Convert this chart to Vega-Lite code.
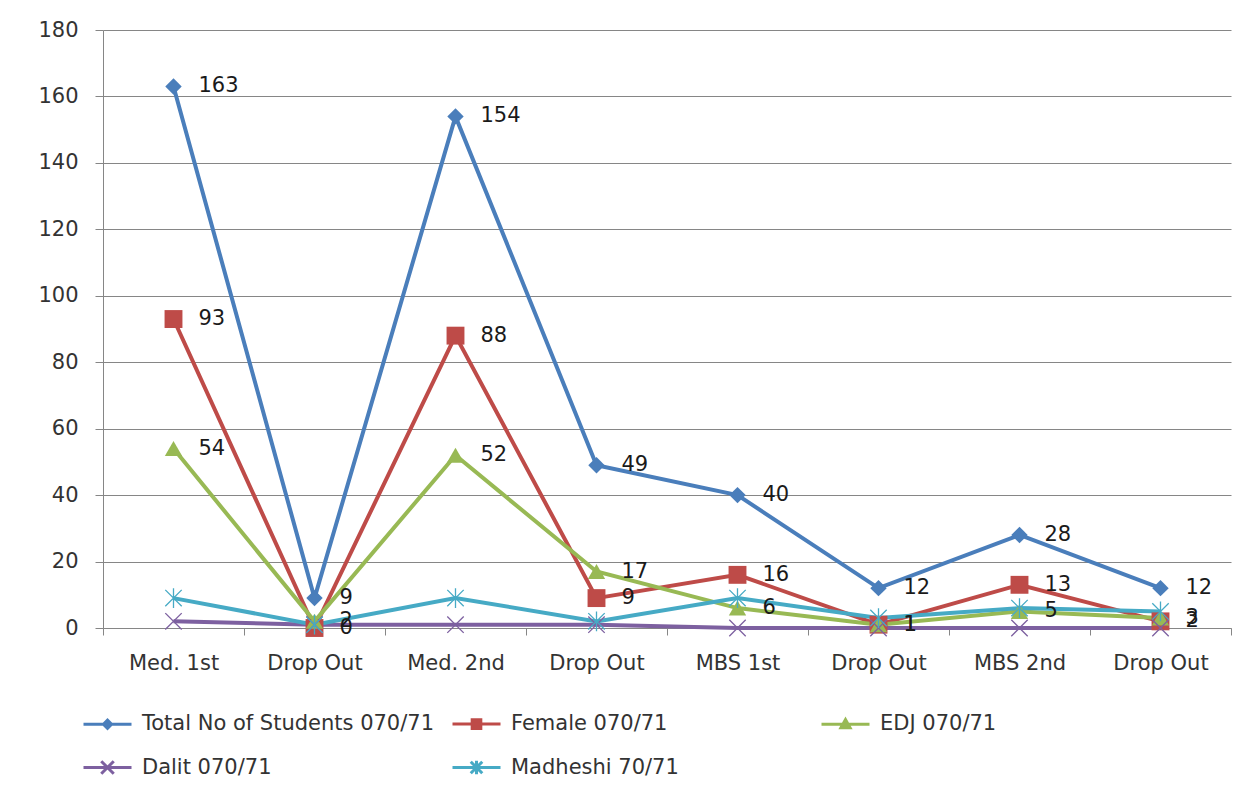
{
  "$schema": "https://vega.github.io/schema/vega-lite/v6.json",
  "width": 1128,
  "height": 598,
  "autosize": {"type": "none"},
  "padding": {"left": 103, "top": 30, "right": 26, "bottom": 165},
  "background": "white",
  "config": {
    "view": {"stroke": null},
    "font": "DejaVu Sans",
    "axis": {"labelFont": "DejaVu Sans", "labelColor": "#333333", "domainColor": "#868686", "tickColor": "#868686", "gridColor": "#868686", "labelFontSize": 21}
  },
  "data": {
    "values": [
      {"i": 0, "s": "Total No of Students 070/71", "v": 163},
      {"i": 1, "s": "Total No of Students 070/71", "v": 9},
      {"i": 2, "s": "Total No of Students 070/71", "v": 154},
      {"i": 3, "s": "Total No of Students 070/71", "v": 49},
      {"i": 4, "s": "Total No of Students 070/71", "v": 40},
      {"i": 5, "s": "Total No of Students 070/71", "v": 12},
      {"i": 6, "s": "Total No of Students 070/71", "v": 28},
      {"i": 7, "s": "Total No of Students 070/71", "v": 12},
      {"i": 0, "s": "Female 070/71", "v": 93},
      {"i": 1, "s": "Female 070/71", "v": 0},
      {"i": 2, "s": "Female 070/71", "v": 88},
      {"i": 3, "s": "Female 070/71", "v": 9},
      {"i": 4, "s": "Female 070/71", "v": 16},
      {"i": 5, "s": "Female 070/71", "v": 1},
      {"i": 6, "s": "Female 070/71", "v": 13},
      {"i": 7, "s": "Female 070/71", "v": 2},
      {"i": 0, "s": "EDJ 070/71", "v": 54},
      {"i": 1, "s": "EDJ 070/71", "v": 2},
      {"i": 2, "s": "EDJ 070/71", "v": 52},
      {"i": 3, "s": "EDJ 070/71", "v": 17},
      {"i": 4, "s": "EDJ 070/71", "v": 6},
      {"i": 5, "s": "EDJ 070/71", "v": 1},
      {"i": 6, "s": "EDJ 070/71", "v": 5},
      {"i": 7, "s": "EDJ 070/71", "v": 3},
      {"i": 0, "s": "Dalit 070/71", "v": 2},
      {"i": 1, "s": "Dalit 070/71", "v": 1},
      {"i": 2, "s": "Dalit 070/71", "v": 1},
      {"i": 3, "s": "Dalit 070/71", "v": 1},
      {"i": 4, "s": "Dalit 070/71", "v": 0},
      {"i": 5, "s": "Dalit 070/71", "v": 0},
      {"i": 6, "s": "Dalit 070/71", "v": 0},
      {"i": 7, "s": "Dalit 070/71", "v": 0},
      {"i": 0, "s": "Madheshi 70/71", "v": 9},
      {"i": 1, "s": "Madheshi 70/71", "v": 1},
      {"i": 2, "s": "Madheshi 70/71", "v": 9},
      {"i": 3, "s": "Madheshi 70/71", "v": 2},
      {"i": 4, "s": "Madheshi 70/71", "v": 9},
      {"i": 5, "s": "Madheshi 70/71", "v": 3},
      {"i": 6, "s": "Madheshi 70/71", "v": 6},
      {"i": 7, "s": "Madheshi 70/71", "v": 5}
    ]
  },
  "encoding": {
    "x": {
      "field": "i",
      "type": "ordinal",
      "scale": {"type": "band", "paddingInner": 0, "paddingOuter": 0},
      "axis": {
        "title": null,
        "labelAngle": 0,
        "labelExpr": "['Med. 1st','Drop Out','Med. 2nd','Drop Out','MBS 1st','Drop Out','MBS 2nd','Drop Out'][datum.value]",
        "tickBand": "extent",
        "tickSize": 7,
        "labelPadding": 17,
        "grid": false
      }
    },
    "y": {
      "field": "v",
      "type": "quantitative",
      "scale": {"domain": [0, 180], "nice": false},
      "axis": {
        "title": null,
        "values": [0, 20, 40, 60, 80, 100, 120, 140, 160, 180],
        "grid": true,
        "tickSize": 8,
        "labelPadding": 17
      }
    },
    "color": {
      "field": "s",
      "type": "nominal",
      "sort": null,
      "scale": {
        "domain": ["Total No of Students 070/71", "Female 070/71", "EDJ 070/71", "Dalit 070/71", "Madheshi 70/71"],
        "range": ["#4A7EBB", "#BE4B48", "#98B954", "#7D60A0", "#46AAC5"]
      },
      "legend": {
        "title": null,
        "orient": "none",
        "legendX": -21,
        "legendY": 667,
        "direction": "horizontal",
        "columns": 3,
        "gridAlign": "all",
        "columnPadding": 11,
        "rowPadding": 6,
        "padding": 0,
        "labelFontSize": 21,
        "labelColor": "#333333",
        "labelOffset": 9,
        "labelLimit": 400,
        "symbolSize": 2304,
        "symbolStrokeWidth": 3,
        "symbolType": "stroke",
        "encode": {
          "symbols": {
            "update": {
              "shape": {"signal": "datum.value === 'Total No of Students 070/71' ? 'M-1,0H1M-0.17,0L0,-0.17L0.17,0L0,0.17Z' : datum.value === 'Female 070/71' ? 'M-1,0H1M-0.18,-0.18H0.18V0.18H-0.18Z' : datum.value === 'EDJ 070/71' ? 'M-1,0H1M-0.19,0.15L0,-0.19L0.19,0.15Z' : datum.value === 'Dalit 070/71' ? 'M-1,0H1M-0.26,-0.26L0.26,0.26M-0.26,0.26L0.26,-0.26' : 'M-1,0H1M-0.24,-0.24L0.24,0.24M-0.24,0.24L0.24,-0.24M0,-0.28V0.28'"},
              "fill": {"signal": "scale('color', datum.value)"}
            }
          }
        }
      }
    }
  },
  "layer": [
    {
      "mark": {"type": "line", "strokeWidth": 4}
    },
    {
      "transform": [{"filter": "datum.s === 'Total No of Students 070/71'"}],
      "mark": {"type": "point", "shape": "diamond", "filled": true, "opacity": 1, "size": 270}
    },
    {
      "transform": [{"filter": "datum.s === 'Female 070/71'"}],
      "mark": {"type": "point", "shape": "square", "filled": true, "opacity": 1, "size": 320}
    },
    {
      "transform": [{"filter": "datum.s === 'EDJ 070/71'"}],
      "mark": {"type": "point", "shape": "triangle-up", "filled": true, "opacity": 1, "size": 300}
    },
    {
      "transform": [{"filter": "datum.s === 'Dalit 070/71'"}],
      "mark": {"type": "point", "shape": "M-1,-1L1,1M-1,1L1,-1", "filled": false, "opacity": 1, "size": 270, "strokeWidth": 1.3}
    },
    {
      "transform": [{"filter": "datum.s === 'Madheshi 70/71'"}],
      "mark": {"type": "point", "shape": "M-1,-1L1,1M-1,1L1,-1M0,-1.2L0,1.2", "filled": false, "opacity": 1, "size": 270, "strokeWidth": 1.3}
    },
    {
      "transform": [{"filter": "indexof(['Total No of Students 070/71','Female 070/71','EDJ 070/71'], datum.s) >= 0"}],
      "mark": {"type": "text", "align": "left", "baseline": "middle", "dx": 25, "fontSize": 21, "color": "#1a1a1a"},
      "encoding": {
        "text": {"field": "v", "type": "quantitative"},
        "color": {"value": "#1a1a1a"}
      }
    }
  ]
}
